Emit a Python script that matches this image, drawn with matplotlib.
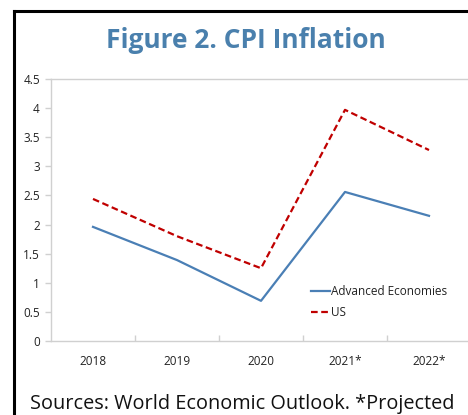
import matplotlib
matplotlib.use("Agg")
import matplotlib.pyplot as plt
from matplotlib.lines import Line2D

plt.rcParams["font.family"] = ["Open Sans", "DejaVu Sans"]

years = ["2018", "2019", "2020", "2021*", "2022*"]
advanced = [1.96, 1.39, 0.69, 2.56, 2.15]
us = [2.44, 1.80, 1.25, 3.97, 3.28]
y_ticks = [0, 0.5, 1, 1.5, 2, 2.5, 3, 3.5, 4, 4.5]
y_tick_labels = ["0", "0.5", "1", "1.5", "2", "2.5", "3", "3.5", "4", "4.5"]

W, H = 468, 415
fig = plt.figure(figsize=(W / 100, H / 100), dpi=100)

# outer frame (top and left edges)
fig.add_artist(Line2D([14 / W, 14 / W], [0, 1 - 11 / H], color="black", lw=2.2,
                      transform=fig.transFigure, solid_capstyle="projecting"))
fig.add_artist(Line2D([14 / W, 1.01], [1 - 11 / H, 1 - 11 / H], color="black", lw=2.2,
                      transform=fig.transFigure, solid_capstyle="projecting"))

fig.text(246 / W, 1 - 40 / H, "Figure 2. CPI Inflation", ha="center", va="center",
         fontsize=19, fontweight="bold", color="#4a80ad")

ax = fig.add_axes([51 / W, 1 - 341 / H, 420 / W, 262 / H])
x = list(range(len(years)))
ax.plot(x, advanced, color="#4a7fb5", lw=1.6, label="Advanced Economies")
ax.plot(x, us, color="#c00000", lw=1.6, dashes=(3, 1.6), label="US")

ax.set_xlim(-0.5, len(years) - 0.5)
ax.set_ylim(0, 4.5)
ax.set_yticks(y_ticks)
ax.set_yticklabels(y_tick_labels)
ax.set_xticks(x)
ax.set_xticklabels(years)
ax.set_xticks([i + 0.5 for i in range(len(years) - 1)], minor=True)

grey = "#d0d0d0"
for s in ax.spines.values():
    s.set_color(grey)
    s.set_linewidth(1.0)
ax.tick_params(axis="x", which="major", length=0, pad=10, labelsize=8.5, labelcolor="#222222")
ax.tick_params(axis="x", which="minor", direction="in", length=4, color=grey, width=1.0)
ax.tick_params(axis="y", which="major", direction="out", length=4, color=grey, width=1.0,
               pad=4, labelsize=8.5, labelcolor="#222222")

ax.legend(loc="center left", bbox_to_anchor=(0.62, 0.148), frameon=False, fontsize=8.5,
          handlelength=1.6, handletextpad=0.05, labelspacing=0.7, borderpad=0,
          borderaxespad=0, labelcolor="#222222")

fig.text(30 / W, 1 - 404 / H, "Sources: World Economic Outlook. *Projected", ha="left",
         va="center", fontsize=14.3, color="#111111")

fig.savefig("out.png", dpi=100)
